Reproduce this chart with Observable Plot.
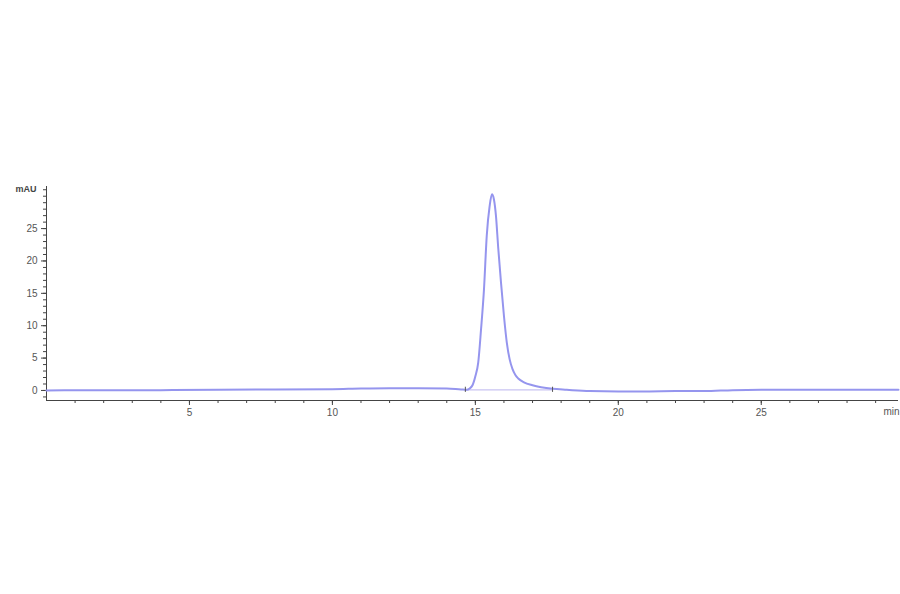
<!DOCTYPE html>
<html>
<head>
<meta charset="utf-8">
<script src="https://cdn.jsdelivr.net/npm/d3@7"></script>
<script src="https://cdn.jsdelivr.net/npm/@observablehq/plot@0.6"></script>
<style>
  html, body { margin: 0; padding: 0; background: #fff; }
  #chart svg { display: block; }
</style>
</head>
<body>
<div id="chart"></div>
<script>
// Retention time (min) and absorbance (mAU)
const times = [0, 2, 4, 6, 8, 10, 11, 12, 13, 14, 14.5, 14.7, 14.8, 14.9, 15.0, 15.1, 15.2, 15.3, 15.4, 15.5, 15.58, 15.65, 15.72, 15.8, 15.9, 16.0, 16.1, 16.2, 16.3, 16.4, 16.5, 16.7, 17.0, 17.3, 17.7, 18.2, 19, 20, 21, 22, 23, 24, 25, 26, 28, 29.8];
const mAU   = [0.0, 0.05, 0.05, 0.1, 0.15, 0.2, 0.3, 0.35, 0.35, 0.3, 0.15, 0.1, 0.3, 0.8, 2.2, 4.3, 9.5, 15.5, 24.0, 28.5, 30.3, 29.5, 27.0, 22.0, 16.5, 11.5, 7.4, 4.8, 3.3, 2.4, 1.85, 1.25, 0.8, 0.5, 0.25, 0.1, -0.1, -0.15, -0.15, -0.1, -0.1, 0.05, 0.1, 0.1, 0.1, 0.1];

// Integration baseline and markers
const baseTimes = [14.65, 17.7];
const baseValues = [0.1, 0.1];

// Axis ticks
const xMajor = [5, 10, 15, 20, 25];
const xMinor = d3.range(1, 30);
const yMajor = [0, 5, 10, 15, 20, 25];
const yMinor = d3.range(-1, 32);
const xDomain = [0, 29.8];
const yDomain = [-1.55, 31.5];

const trace = times.map((t, i) => ({t, v: mAU[i]}));
const baseline = baseTimes.map((t, i) => ({t, v: baseValues[i]}));

const axisColor = "#444";
const font = "Liberation Sans, Arial, sans-serif";

const chart = Plot.plot({
  width: 900,
  height: 594,
  marginLeft: 46,
  marginRight: 2,
  marginTop: 186,
  marginBottom: 194,
  style: {fontFamily: font, fontSize: "10px", color: "#555", background: "#fff"},
  x: {domain: xDomain, axis: null},
  y: {domain: yDomain, axis: null},
  marks: [
    // minor ticks
    Plot.axisX({ticks: xMinor, tickSize: 3, tickFormat: () => "", label: null, stroke: axisColor, strokeWidth: 1}),
    Plot.axisY({ticks: yMinor, tickSize: 3, tickFormat: () => "", label: null, stroke: axisColor, strokeWidth: 1}),
    // major ticks with labels
    Plot.axisX({ticks: xMajor, tickSize: 5, tickPadding: 3, tickFormat: d3.format("d"), label: null, stroke: axisColor, fill: "#555"}),
    Plot.axisY({ticks: yMajor, tickSize: 5, tickPadding: 4, tickFormat: d3.format("d"), label: null, stroke: axisColor, fill: "#555"}),
    // axis lines
    Plot.ruleX([xDomain[0]], {y1: yDomain[0], y2: yDomain[1], stroke: axisColor, strokeWidth: 1}),
    Plot.ruleY([yDomain[0]], {x1: xDomain[0], x2: xDomain[1], stroke: axisColor, strokeWidth: 1}),
    // integration baseline
    Plot.line(baseline, {x: "t", y: "v", stroke: "#c9c3f2", strokeWidth: 1.2}),
    // chromatogram trace
    Plot.line(trace, {x: "t", y: "v", curve: "monotone-x", stroke: "#9595ee", strokeWidth: 2}),
    // integration markers
    Plot.ruleX(baseTimes, {y1: -0.3, y2: 0.5, stroke: "#555", strokeWidth: 1}),
    // unit labels
    Plot.text(["mAU"], {frameAnchor: "top-left", dx: -10, dy: 3, textAnchor: "end", lineAnchor: "middle", fill: "#444", fontWeight: "bold", fontSize: 9}),
    Plot.text(["min"], {frameAnchor: "bottom-right", dx: 1, dy: 11, textAnchor: "end", lineAnchor: "middle", fill: "#555", fontSize: 10})
  ]
});

document.getElementById("chart").appendChild(chart);
</script>
</body>
</html>
